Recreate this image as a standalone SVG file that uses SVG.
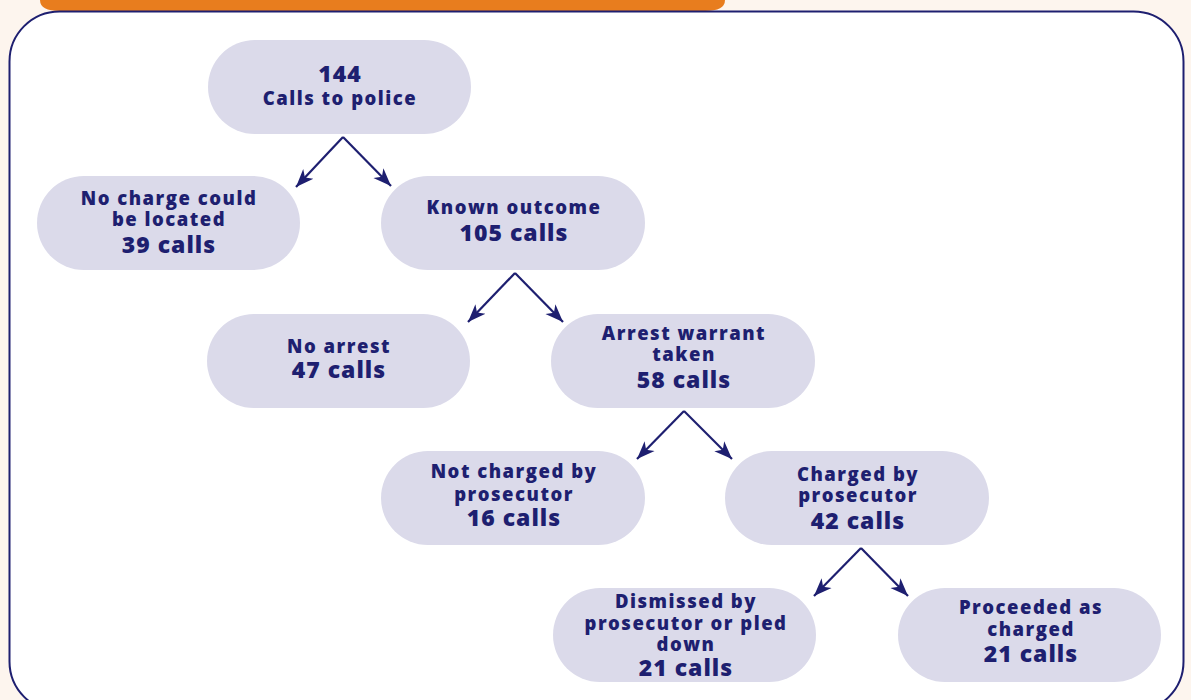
<svg xmlns="http://www.w3.org/2000/svg" width="1191" height="700" viewBox="0 0 1191 700">
<defs>
<style>
.node rect{fill:#dbdaea;}
text{font-family:"Open Sans","Liberation Sans",sans-serif;font-weight:800;fill:#1e1f70;text-anchor:middle;}
.s{font-size:18.5px;letter-spacing:1.5px;}
.b{font-size:23px;letter-spacing:1px;}
.conn path{fill:none;stroke:#1e1f70;stroke-width:2.2;}
</style>
<marker id="ah" markerUnits="userSpaceOnUse" markerWidth="20" markerHeight="20" viewBox="0 0 20 20" refX="18" refY="10" orient="auto">
<path d="M0,3 L18,10 L0,17 L5,10 Z" fill="#1e1f70"/>
</marker>
</defs>
<rect x="0" y="0" width="1191" height="700" fill="#fdf5ee"/>
<path d="M40,0 H725 Q725,11 705,11 H60 Q40,11 40,0 Z" fill="#e87d1e"/>
<rect x="9.5" y="11.5" width="1174" height="700" rx="50" ry="50" fill="#ffffff" stroke="#1e1f70" stroke-width="2"/>
<g class="conn">
<path d="M343,137 L296,187" marker-end="url(#ah)"/>
<path d="M343,137 L391,186" marker-end="url(#ah)"/>
<path d="M515,273 L468,322" marker-end="url(#ah)"/>
<path d="M515,273 L563,322" marker-end="url(#ah)"/>
<path d="M684,411 L637,459" marker-end="url(#ah)"/>
<path d="M684,411 L732,459" marker-end="url(#ah)"/>
<path d="M861,548 L814,596" marker-end="url(#ah)"/>
<path d="M861,548 L908,596" marker-end="url(#ah)"/>
</g>
<g id="n1" class="node"><rect x="208" y="40" width="263" height="94" rx="47"/>
<text class="b" x="340" y="82">144</text><text class="s" x="340" y="105">Calls to police</text></g>
<g id="n2" class="node"><rect x="37" y="176" width="263" height="94" rx="47"/>
<text class="s" x="169" y="205">No charge could</text><text class="s" x="169" y="226">be located</text><text class="b" x="169" y="253">39 calls</text></g>
<g id="n3" class="node"><rect x="381" y="176" width="264" height="94" rx="47"/>
<text class="s" x="514" y="214">Known outcome</text><text class="b" x="514" y="241">105 calls</text></g>
<g id="n4" class="node"><rect x="207" y="314" width="263" height="94" rx="47"/>
<text class="s" x="339" y="353">No arrest</text><text class="b" x="339" y="378">47 calls</text></g>
<g id="n5" class="node"><rect x="551" y="314" width="264" height="94" rx="47"/>
<text class="s" x="684" y="340">Arrest warrant</text><text class="s" x="684" y="361">taken</text><text class="b" x="684" y="388">58 calls</text></g>
<g id="n6" class="node"><rect x="381" y="451" width="264" height="94" rx="47"/>
<text class="s" x="514" y="478">Not charged by</text><text class="s" x="514" y="501">prosecutor</text><text class="b" x="514" y="526">16 calls</text></g>
<g id="n7" class="node"><rect x="725" y="451" width="264" height="94" rx="47"/>
<text class="s" x="858" y="481">Charged by</text><text class="s" x="858" y="502">prosecutor</text><text class="b" x="858" y="529">42 calls</text></g>
<g id="n8" class="node"><rect x="553" y="588" width="263" height="94" rx="47"/>
<text class="s" x="686" y="608">Dismissed by</text><text class="s" x="686" y="630">prosecutor or pled</text><text class="s" x="686" y="651">down</text><text class="b" x="686" y="676">21 calls</text></g>
<g id="n9" class="node"><rect x="898" y="588" width="263" height="94" rx="47"/>
<text class="s" x="1031" y="614">Proceeded as</text><text class="s" x="1031" y="636">charged</text><text class="b" x="1031" y="662">21 calls</text></g>
</svg>
